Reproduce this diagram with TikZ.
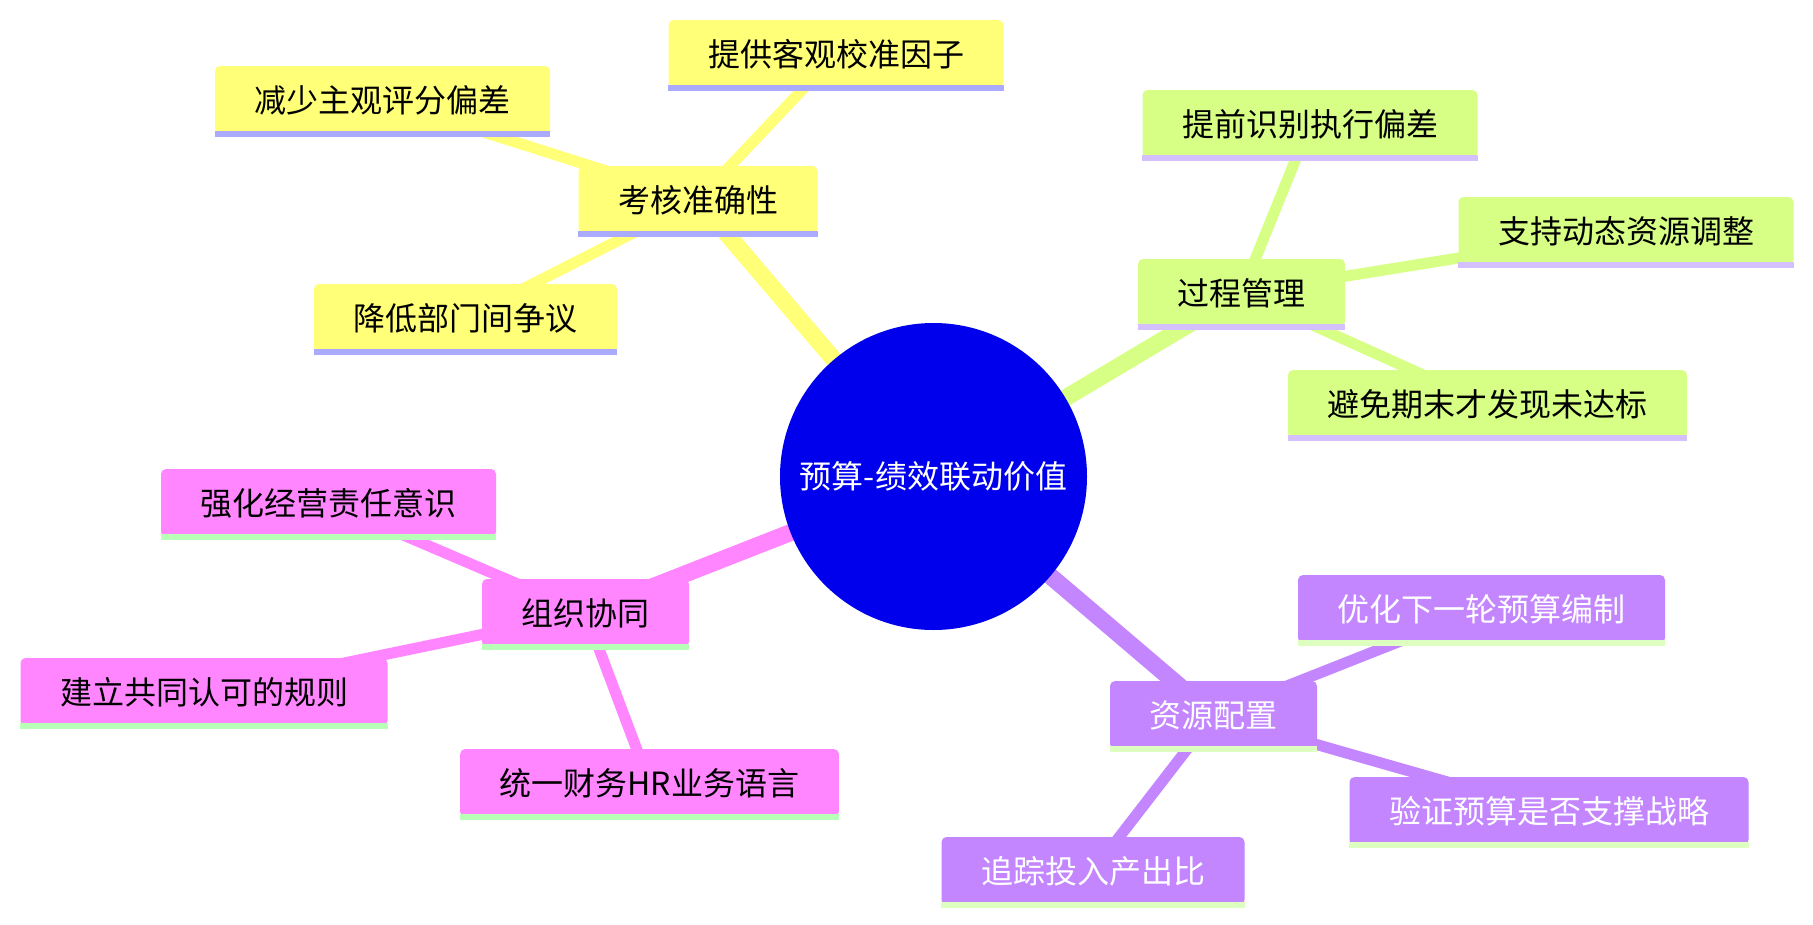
\documentclass[tikz,border=0pt]{standalone}
\usepackage{fontspec}
\setmainfont{Noto Sans CJK SC}
\usetikzlibrary{backgrounds}
\definecolor{rootc}{RGB}{0,0,236}
\definecolor{cy}{RGB}{255,255,120}
\definecolor{cyl}{RGB}{170,170,255}
\definecolor{cg}{RGB}{215,255,134}
\definecolor{cgl}{RGB}{212,192,255}
\definecolor{cp}{RGB}{255,134,255}
\definecolor{cpl}{RGB}{184,255,184}
\definecolor{cv}{RGB}{195,134,255}
\definecolor{cvl}{RGB}{221,255,192}
\newcommand\myfs{\fontsize{32}{38}\selectfont}
\newcommand\mystrip[2]{\fill[#2] ([yshift=-3pt]#1.south west) rectangle ([yshift=3pt]#1.south east);}
\tikzset{
  box/.style={rounded corners=5pt, inner xsep=39.5pt, inner ysep=0pt, minimum height=68pt, font=\myfs, text=black},
  ybox/.style={box, fill=cy},
  gbox/.style={box, fill=cg},
  pbox/.style={box, fill=cp},
  vbox/.style={box, fill=cv, text=white},
  mainedge/.style={line width=17pt},
  subedge/.style={line width=11pt},
}
\begin{document}
\begin{tikzpicture}[x=1pt,y=-1pt]
\useasboundingbox (0,0) rectangle (1813,924);
\node[circle, fill=rootc, minimum size=307pt, inner sep=0pt, text=white, font=\myfs] (root) at (933.5,476.5) {预算-绩效联动价值};
% yellow
\node[ybox] (a) at (698,200) {考核准确性};
\node[ybox] (a1) at (836,54) {提供客观校准因子};
\node[ybox] (a2) at (382.5,100) {减少主观评分偏差};
\node[ybox] (a3) at (465.5,318) {降低部门间争议};
% green
\node[gbox] (b) at (1241.5,293) {过程管理};
\node[gbox] (b1) at (1310,124) {提前识别执行偏差};
\node[gbox] (b2) at (1626,231) {支持动态资源调整};
\node[gbox] (b3) at (1487.5,404) {避免期末才发现未达标};
% pink
\node[pbox] (c) at (585.5,613) {组织协同};
\node[pbox] (c1) at (328.5,503) {强化经营责任意识};
\node[pbox] (c2) at (204,692) {建立共同认可的规则};
\node[pbox] (c3) at (649.5,783) {统一财务HR业务语言};
% violet
\node[vbox] (d) at (1213.5,715) {资源配置};
\node[vbox] (d1) at (1481.5,609) {优化下一轮预算编制};
\node[vbox] (d2) at (1549,811) {验证预算是否支撑战略};
\node[vbox] (d3) at (1093,871) {追踪投入产出比};
\mystrip{a}{cyl}\mystrip{a1}{cyl}\mystrip{a2}{cyl}\mystrip{a3}{cyl}
\mystrip{b}{cgl}\mystrip{b1}{cgl}\mystrip{b2}{cgl}\mystrip{b3}{cgl}
\mystrip{c}{cpl}\mystrip{c1}{cpl}\mystrip{c2}{cpl}\mystrip{c3}{cpl}
\mystrip{d}{cvl}\mystrip{d1}{cvl}\mystrip{d2}{cvl}\mystrip{d3}{cvl}
\begin{scope}[on background layer]
\draw[mainedge, cy] (root.center) -- (a.center);
\draw[subedge, cy] (a.center) -- (a1.center);
\draw[subedge, cy] (a.center) -- (a2.center);
\draw[subedge, cy] (a.center) -- (a3.center);
\draw[mainedge, cg] (root.center) -- (b.center);
\draw[subedge, cg] (b.center) -- (b1.center);
\draw[subedge, cg] (b.center) -- (b2.center);
\draw[subedge, cg] (b.center) -- (b3.center);
\draw[mainedge, cp] (root.center) -- (c.center);
\draw[subedge, cp] (c.center) -- (c1.center);
\draw[subedge, cp] (c.center) -- (c2.center);
\draw[subedge, cp] (c.center) -- (c3.center);
\draw[mainedge, cv] (root.center) -- (d.center);
\draw[subedge, cv] (d.center) -- (d1.center);
\draw[subedge, cv] (d.center) -- (d2.center);
\draw[subedge, cv] (d.center) -- (d3.center);
\end{scope}
\end{tikzpicture}
\end{document}
